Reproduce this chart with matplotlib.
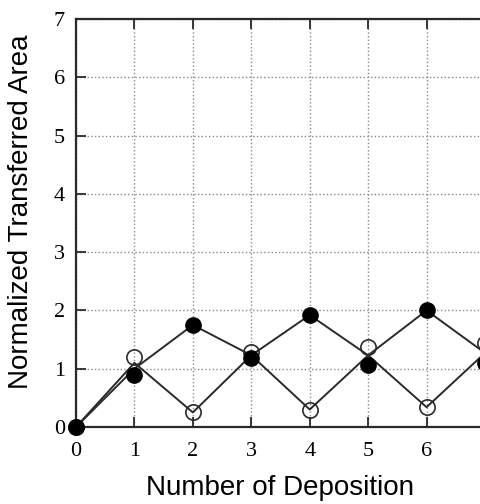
import matplotlib
matplotlib.use('Agg')
import matplotlib.pyplot as plt

# Data
deposition = [0, 1, 2, 3, 4, 5, 6, 7]
filled_pts = [0.0, 0.89, 1.75, 1.18, 1.92, 1.06, 2.0, 1.1]
open_pts = [0.0, 1.2, 0.25, 1.29, 0.3, 1.37, 0.34, 1.44]
line_a = [0.0, 1.0, 1.75, 1.23, 1.92, 1.23, 2.0, 1.27]
line_b = [0.0, 1.1, 0.25, 1.23, 0.3, 1.23, 0.34, 1.27]
xticks = [0, 1, 2, 3, 4, 5, 6, 7]
yticks = [0, 1, 2, 3, 4, 5, 6, 7]

c_ink = '#2a2a2a'

fig = plt.figure(figsize=(4.81, 5.04), dpi=100)
ax = fig.add_axes([76 / 481, 77 / 504, 409 / 481, 408 / 504])
ax.set_xlim(0, 7)
ax.set_ylim(0, 7)

ax.plot(deposition, line_a, color=c_ink, lw=1.4, zorder=2)
ax.plot(deposition, line_b, color=c_ink, lw=1.4, zorder=2)
ax.plot(deposition, open_pts, 'o', ms=11, mfc='none', mec=c_ink, mew=1.2, zorder=3, clip_on=False)
ax.plot(deposition, filled_pts, 'o', ms=11, mfc='black', mec='black', zorder=4, clip_on=False)

ax.set_xticks(xticks)
ax.set_yticks(yticks)
ax.grid(True, ls=':', color='#888888', lw=1.0)
ax.tick_params(direction='in', length=7, width=1.3, color=c_ink, top=True,
               labelsize=16)
ax.tick_params(axis='x', pad=11)
ax.tick_params(axis='y', pad=8)
for lab in ax.get_xticklabels() + ax.get_yticklabels():
    lab.set_family('Liberation Serif')
for s in ax.spines.values():
    s.set_color(c_ink)
    s.set_linewidth(1.6)

ax.set_xlabel('Number of Deposition', fontsize=20, family='Liberation Sans', labelpad=10)
ax.set_ylabel('Normalized Transferred Area', fontsize=20, family='Liberation Sans')
ax.yaxis.set_label_coords(-0.103, 0.527)

fig.savefig('out.png', dpi=100)
